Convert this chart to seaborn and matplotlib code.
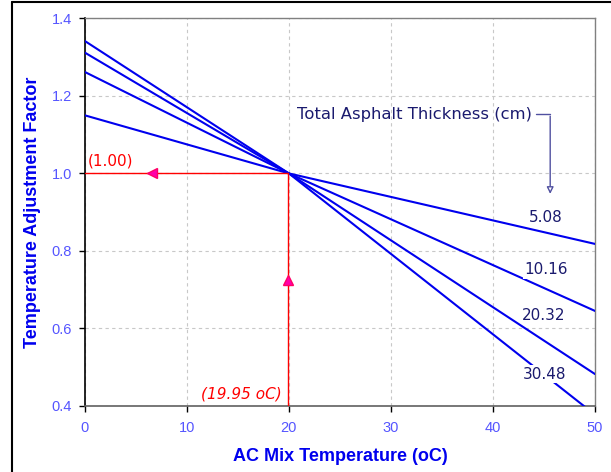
import numpy as np
import pandas as pd
import matplotlib
matplotlib.use("Agg")
import matplotlib.pyplot as plt
import seaborn as sns
from matplotlib.lines import Line2D

# Data
temps = [0, 20, 50]
thickness_labels = ["5.08", "10.16", "20.32", "30.48"]
taf_508 = [1.150, 1.0, 0.818]
taf_1016 = [1.262, 1.0, 0.645]
taf_2032 = [1.312, 1.0, 0.482]
taf_3048 = [1.342, 1.0, 0.377]
label_x = [45.2, 45.2, 45.0, 45.0]
label_y = [0.887, 0.751, 0.634, 0.482]
x_ticks = [0, 10, 20, 30, 40, 50]
y_ticks = [0.4, 0.6, 0.8, 1.0, 1.2, 1.4]
read_temp = 19.95
read_factor = 1.00

rows = []
for lab, vals in zip(thickness_labels, [taf_508, taf_1016, taf_2032, taf_3048]):
    for t, v in zip(temps, vals):
        rows.append({"temp": t, "taf": v, "thick": lab})
df = pd.DataFrame(rows)

sns.set_theme(style="white")
plt.rcParams["font.family"] = ["Liberation Sans", "DejaVu Sans"]

fig = plt.figure(figsize=(6.11, 4.72), dpi=100)
ax = fig.add_axes([0.1386, 0.140, 0.974 - 0.1386, 0.961 - 0.140])

sns.lineplot(data=df, x="temp", y="taf", hue="thick",
             palette=["#0000ee"] * 4, linewidth=1.5, legend=False, ax=ax,
             zorder=3)

ax.set_xlim(0, 50)
ax.set_ylim(0.4, 1.4)
ax.set_xticks(x_ticks)
ax.set_yticks(y_ticks)
ax.set_xticklabels([str(v) for v in x_ticks])
ax.set_yticklabels([f"{v:.1f}" for v in y_ticks])
ax.tick_params(axis="both", colors="black", labelcolor="#5555ff",
               labelsize=10.5, direction="out", length=4, width=1,
               bottom=True, left=True)
ax.tick_params(axis="x", pad=7)
ax.tick_params(axis="y", pad=5)
ax.grid(True, color="#c8c8c8", linestyle=(0, (3, 3)), linewidth=0.8)
ax.set_axisbelow(True)
for side in ["top", "right"]:
    ax.spines[side].set_color("#808080")
    ax.spines[side].set_linewidth(1)
ax.spines["left"].set_color("black")
ax.spines["bottom"].set_color("#606060")
ax.spines["left"].set_linewidth(1.2)
ax.spines["bottom"].set_linewidth(1.2)

ax.set_xlabel("AC Mix Temperature (oC)", color="#0000ee", fontsize=13,
              fontweight="bold", labelpad=9)
ax.set_ylabel("Temperature Adjustment Factor", color="#0000ee", fontsize=13,
              fontweight="bold", labelpad=8)

# Red reading lines
ax.plot([0, read_temp], [read_factor, read_factor], color="#ff0000", lw=1, zorder=4)
ax.plot([read_temp, read_temp], [0.4, read_factor], color="#ff0000", lw=1, zorder=4)
ax.plot([6.6], [read_factor], marker="<", color="#ff00aa", markersize=7, zorder=5,
        markeredgecolor="#ff0066")
ax.plot([read_temp], [0.725], marker="^", color="#ff00aa", markersize=7, zorder=5,
        markeredgecolor="#ff0066")
ax.text(0.3, 1.013, "(1.00)", color="#ff0000", fontsize=11, ha="left", va="bottom",
        family=["DejaVu Sans"])
ax.text(19.3, 0.43, "(19.95 oC)", color="#ff0000", fontsize=11, ha="right",
        va="center", style="italic", family=["DejaVu Sans"])

# Thickness labels
for lab, lx, ly in zip(thickness_labels, label_x, label_y):
    ax.text(lx, ly, lab, color="#1a1a6e", fontsize=11, ha="center", va="center",
            family=["DejaVu Sans"],
            bbox=dict(facecolor="white", edgecolor="none", pad=1), zorder=4)

ax.text(20.8, 1.153, "Total Asphalt Thickness (cm)", color="#1a1a6e", fontsize=11.8,
        ha="left", va="center", family=["DejaVu Sans"])
ax.plot([44.2, 45.6], [1.153, 1.153], color="#5050a0", lw=1, zorder=4)
ax.annotate("", xy=(45.6, 0.94), xytext=(45.6, 1.155),
            arrowprops=dict(arrowstyle="-|>", color="#5050a0", lw=1,
                            mutation_scale=10, fc="white"), zorder=4)

# Figure frame (top and left)
fig.add_artist(Line2D([0.019, 1.0], [0.995, 0.995], color="black", lw=1.5,
                      transform=fig.transFigure))
fig.add_artist(Line2D([0.019, 0.019], [0.0, 0.995], color="black", lw=1.5,
                      transform=fig.transFigure))

fig.savefig("out.png", dpi=100)
